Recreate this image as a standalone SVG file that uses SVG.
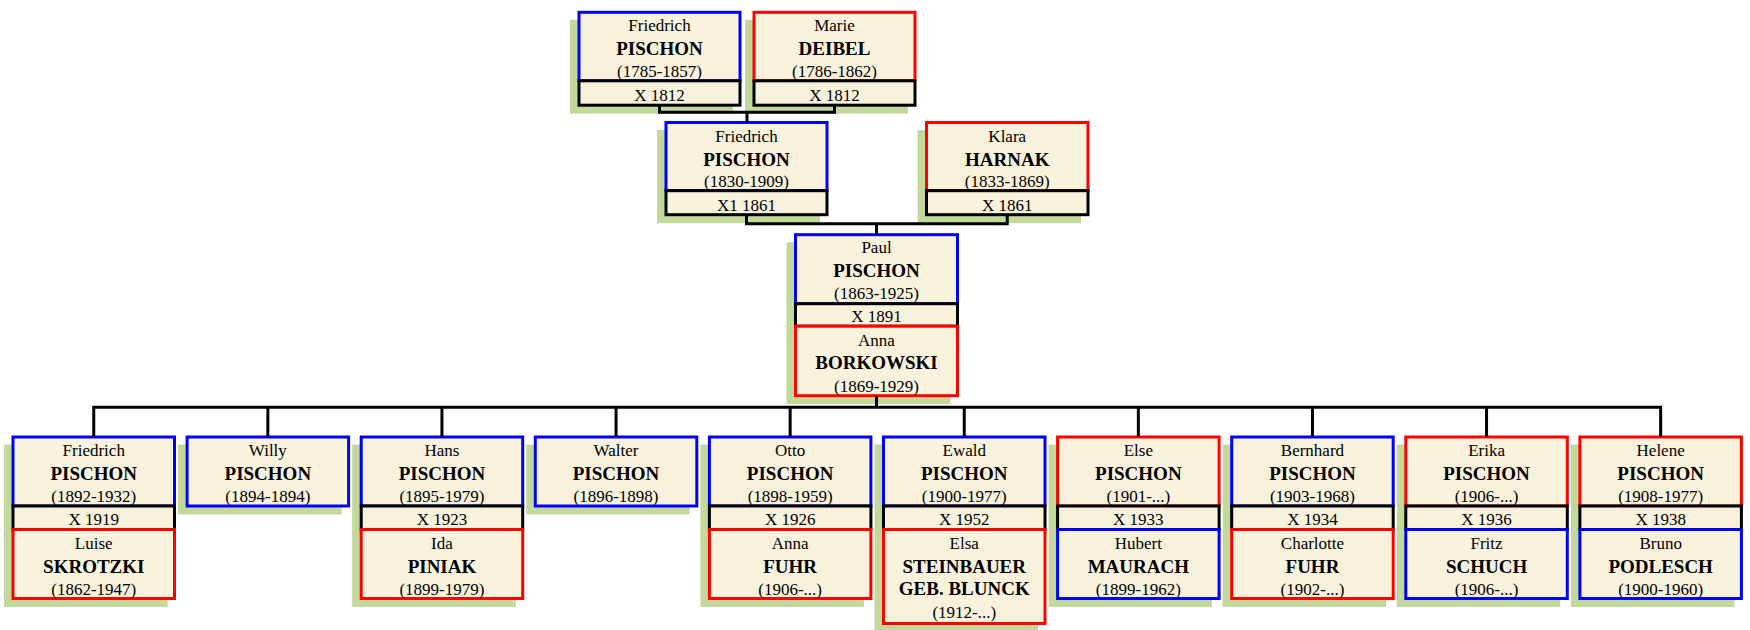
<svg xmlns="http://www.w3.org/2000/svg" width="1750" height="630" viewBox="0 0 1750 630">
<style>
.sh{fill:#c3d99b}
.m{fill:#f8f2dc;stroke:#0000ff;stroke-width:3}
.f{fill:#f8f2dc;stroke:#ff0000;stroke-width:3}
.x{fill:#f8f2dc;stroke:#000;stroke-width:3}
text{font-family:"Liberation Serif","Times New Roman",serif;font-size:17px;text-anchor:middle;fill:#000}
.b{font-weight:bold;font-size:19px}
.c{fill:none;stroke:#000;stroke-width:3}
</style>
<rect width="1750" height="630" fill="#fff"/>

<!-- Generation 1 -->
<g id="n-friedrich-1785">
<rect class="sh" x="570" y="19.8" width="163" height="93.9"/>
<rect class="m" x="579" y="12.3" width="161" height="68.5"/>
<rect class="x" x="579" y="80.8" width="161" height="24.4"/>
<text x="659.5" y="31">Friedrich</text>
<text class="b" x="659.5" y="55">PISCHON</text>
<text x="659.5" y="76.5">(1785-1857)</text>
<text x="659.5" y="100.5">X 1812</text>
</g>
<g id="n-marie-1786">
<rect class="sh" x="745" y="19.8" width="163" height="93.9"/>
<rect class="f" x="754" y="12.3" width="161" height="68.5"/>
<rect class="x" x="754" y="80.8" width="161" height="24.4"/>
<text x="834.5" y="31">Marie</text>
<text class="b" x="834.5" y="55">DEIBEL</text>
<text x="834.5" y="76.5">(1786-1862)</text>
<text x="834.5" y="100.5">X 1812</text>
</g>

<!-- Generation 2 -->
<g id="n-friedrich-1830">
<rect class="sh" x="657" y="130" width="163" height="93.2"/>
<rect class="m" x="666" y="122.5" width="161" height="68.2"/>
<rect class="x" x="666" y="190.7" width="161" height="24"/>
<text x="746.5" y="141.7">Friedrich</text>
<text class="b" x="746.5" y="165.7">PISCHON</text>
<text x="746.5" y="186.7">(1830-1909)</text>
<text x="746.5" y="210.7">X1 1861</text>
</g>
<g id="n-klara-1833">
<rect class="sh" x="917.5" y="130" width="163.5" height="93.2"/>
<rect class="f" x="926.5" y="122.5" width="161.5" height="68.2"/>
<rect class="x" x="926.5" y="190.7" width="161.5" height="24"/>
<text x="1007.25" y="141.7">Klara</text>
<text class="b" x="1007.25" y="165.7">HARNAK</text>
<text x="1007.25" y="186.7">(1833-1869)</text>
<text x="1007.25" y="210.7">X 1861</text>
</g>

<!-- Generation 3 -->
<g id="n-paul-1863">
<rect class="sh" x="786.5" y="242.2" width="164" height="162"/>
<rect class="m" x="795.5" y="234.7" width="162" height="69"/>
<rect class="x" x="795.5" y="303.7" width="162" height="22.5"/>
<rect class="f" x="795.5" y="326.2" width="162" height="69.5"/>
<text x="876.5" y="252.7">Paul</text>
<text class="b" x="876.5" y="276.7">PISCHON</text>
<text x="876.5" y="299">(1863-1925)</text>
<text x="876.5" y="321.7">X 1891</text>
<text x="876.5" y="345.7">Anna</text>
<text class="b" x="876.5" y="369.3">BORKOWSKI</text>
<text x="876.5" y="391.7">(1869-1929)</text>
</g>

<!-- Generation 4 -->
<g id="n-friedrich-1892">
<rect class="sh" x="4" y="444.5" width="163.5" height="162.5"/>
<rect class="m" x="13" y="437" width="161.5" height="69"/>
<rect class="x" x="13" y="506" width="161.5" height="23.5"/>
<rect class="f" x="13" y="529.5" width="161.5" height="69"/>
<text x="93.75" y="456.3">Friedrich</text>
<text class="b" x="93.75" y="480.3">PISCHON</text>
<text x="93.75" y="501.5">(1892-1932)</text>
<text x="93.75" y="525">X 1919</text>
<text x="93.75" y="549">Luise</text>
<text class="b" x="93.75" y="573.3">SKROTZKI</text>
<text x="93.75" y="595">(1862-1947)</text>
</g>
<g id="n-willy-1894">
<rect class="sh" x="178.1" y="444.5" width="163.5" height="70"/>
<rect class="m" x="187.1" y="437" width="161.5" height="69"/>
<text x="267.85" y="456.3">Willy</text>
<text class="b" x="267.85" y="480.3">PISCHON</text>
<text x="267.85" y="501.5">(1894-1894)</text>
</g>
<g id="n-hans-1895">
<rect class="sh" x="352.2" y="444.5" width="163.5" height="162.5"/>
<rect class="m" x="361.2" y="437" width="161.5" height="69"/>
<rect class="x" x="361.2" y="506" width="161.5" height="23.5"/>
<rect class="f" x="361.2" y="529.5" width="161.5" height="69"/>
<text x="441.95" y="456.3">Hans</text>
<text class="b" x="441.95" y="480.3">PISCHON</text>
<text x="441.95" y="501.5">(1895-1979)</text>
<text x="441.95" y="525">X 1923</text>
<text x="441.95" y="549">Ida</text>
<text class="b" x="441.95" y="573.3">PINIAK</text>
<text x="441.95" y="595">(1899-1979)</text>
</g>
<g id="n-walter-1896">
<rect class="sh" x="526.3" y="444.5" width="163.5" height="70"/>
<rect class="m" x="535.3" y="437" width="161.5" height="69"/>
<text x="616.05" y="456.3">Walter</text>
<text class="b" x="616.05" y="480.3">PISCHON</text>
<text x="616.05" y="501.5">(1896-1898)</text>
</g>
<g id="n-otto-1898">
<rect class="sh" x="700.4" y="444.5" width="163.5" height="162.5"/>
<rect class="m" x="709.4" y="437" width="161.5" height="69"/>
<rect class="x" x="709.4" y="506" width="161.5" height="23.5"/>
<rect class="f" x="709.4" y="529.5" width="161.5" height="69"/>
<text x="790.15" y="456.3">Otto</text>
<text class="b" x="790.15" y="480.3">PISCHON</text>
<text x="790.15" y="501.5">(1898-1959)</text>
<text x="790.15" y="525">X 1926</text>
<text x="790.15" y="549">Anna</text>
<text class="b" x="790.15" y="573.3">FUHR</text>
<text x="790.15" y="595">(1906-...)</text>
</g>
<g id="n-ewald-1900">
<rect class="sh" x="874.5" y="444.5" width="163.5" height="187.5"/>
<rect class="m" x="883.5" y="437" width="161.5" height="69"/>
<rect class="x" x="883.5" y="506" width="161.5" height="23.5"/>
<rect class="f" x="883.5" y="529.5" width="161.5" height="94"/>
<text x="964.25" y="456.3">Ewald</text>
<text class="b" x="964.25" y="480.3">PISCHON</text>
<text x="964.25" y="501.5">(1900-1977)</text>
<text x="964.25" y="525">X 1952</text>
<text x="964.25" y="549">Elsa</text>
<text class="b" x="964.25" y="573.3">STEINBAUER</text>
<text class="b" x="964.25" y="595">GEB. BLUNCK</text>
<text x="964.25" y="617.7">(1912-...)</text>
</g>
<g id="n-else-1901">
<rect class="sh" x="1048.6" y="444.5" width="163.5" height="162.5"/>
<rect class="f" x="1057.6" y="437" width="161.5" height="69"/>
<rect class="x" x="1057.6" y="506" width="161.5" height="23.5"/>
<rect class="m" x="1057.6" y="529.5" width="161.5" height="69"/>
<text x="1138.35" y="456.3">Else</text>
<text class="b" x="1138.35" y="480.3">PISCHON</text>
<text x="1138.35" y="501.5">(1901-...)</text>
<text x="1138.35" y="525">X 1933</text>
<text x="1138.35" y="549">Hubert</text>
<text class="b" x="1138.35" y="573.3">MAURACH</text>
<text x="1138.35" y="595">(1899-1962)</text>
</g>
<g id="n-bernhard-1903">
<rect class="sh" x="1222.7" y="444.5" width="163.5" height="162.5"/>
<rect class="m" x="1231.7" y="437" width="161.5" height="69"/>
<rect class="x" x="1231.7" y="506" width="161.5" height="23.5"/>
<rect class="f" x="1231.7" y="529.5" width="161.5" height="69"/>
<text x="1312.45" y="456.3">Bernhard</text>
<text class="b" x="1312.45" y="480.3">PISCHON</text>
<text x="1312.45" y="501.5">(1903-1968)</text>
<text x="1312.45" y="525">X 1934</text>
<text x="1312.45" y="549">Charlotte</text>
<text class="b" x="1312.45" y="573.3">FUHR</text>
<text x="1312.45" y="595">(1902-...)</text>
</g>
<g id="n-erika-1906">
<rect class="sh" x="1396.8" y="444.5" width="163.5" height="162.5"/>
<rect class="f" x="1405.8" y="437" width="161.5" height="69"/>
<rect class="x" x="1405.8" y="506" width="161.5" height="23.5"/>
<rect class="m" x="1405.8" y="529.5" width="161.5" height="69"/>
<text x="1486.55" y="456.3">Erika</text>
<text class="b" x="1486.55" y="480.3">PISCHON</text>
<text x="1486.55" y="501.5">(1906-...)</text>
<text x="1486.55" y="525">X 1936</text>
<text x="1486.55" y="549">Fritz</text>
<text class="b" x="1486.55" y="573.3">SCHUCH</text>
<text x="1486.55" y="595">(1906-...)</text>
</g>
<g id="n-helene-1908">
<rect class="sh" x="1570.9" y="444.5" width="163.5" height="162.5"/>
<rect class="f" x="1579.9" y="437" width="161.5" height="69"/>
<rect class="x" x="1579.9" y="506" width="161.5" height="23.5"/>
<rect class="m" x="1579.9" y="529.5" width="161.5" height="69"/>
<text x="1660.65" y="456.3">Helene</text>
<text class="b" x="1660.65" y="480.3">PISCHON</text>
<text x="1660.65" y="501.5">(1908-1977)</text>
<text x="1660.65" y="525">X 1938</text>
<text x="1660.65" y="549">Bruno</text>
<text class="b" x="1660.65" y="573.3">PODLESCH</text>
<text x="1660.65" y="595">(1900-1960)</text>
</g>

<g id="connectors" class="c">
<path d="M659.5,105.2 V112.3 H834.5 V105.2 M747,112.3 V122.5"/>
<path d="M746.5,214.7 V223.7 H1007.25 V214.7 M876.5,223.7 V234.7"/>
<path d="M876.5,395.7 V407.3"/>
<path d="M93.75,437 V407.3 H1660.65 V437"/>
<path d="M267.85,407.3 V437 M441.95,407.3 V437 M616.05,407.3 V437 M790.15,407.3 V437 M964.25,407.3 V437 M1138.35,407.3 V437 M1312.45,407.3 V437 M1486.55,407.3 V437"/>
</g>
</svg>
